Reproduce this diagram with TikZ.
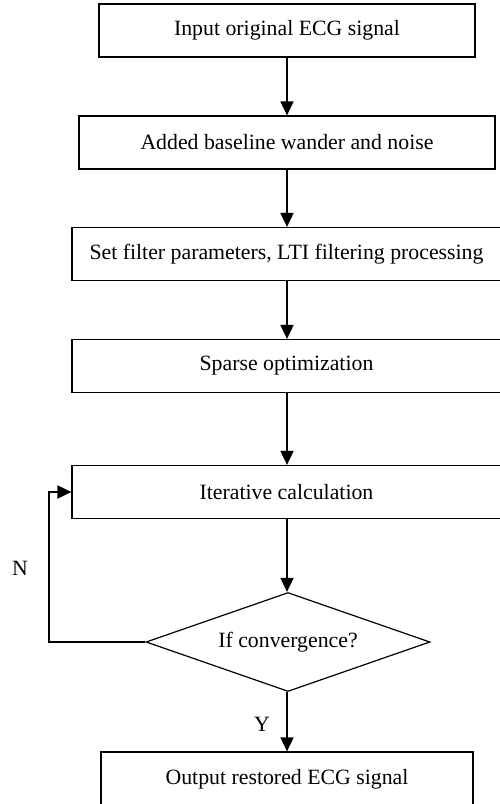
\documentclass[tikz,border=0pt]{standalone}
\usepackage{fontspec}
\setmainfont{Liberation Serif}
\usetikzlibrary{arrows.meta,shapes.geometric}
\begin{document}
\begin{tikzpicture}[x=1pt,y=-1pt,
  box/.style={draw,line width=1.2pt,rectangle,inner sep=0pt,minimum height=53pt,font=\fontsize{21.8}{24}\selectfont},
  arr/.style={line width=1.8pt,-{Triangle[width=13pt,length=14pt]}},
  lbl/.style={font=\fontsize{21.8}{24}\selectfont}]
\useasboundingbox (0,0) rectangle (500,804);
\node[box,minimum width=376pt] (b1) at (287,30.5) {Input original ECG signal};
\node[box,minimum width=416pt] (b2) at (287,142.5) {Added baseline wander and noise};
\node[box,minimum width=429pt] (b3) at (286.5,254) {Set filter parameters, LTI filtering processing};
\node[box,minimum width=429pt] (b4) at (286.5,366) {Sparse optimization};
\node[box,minimum width=429pt] (b5) at (286.5,492) {Iterative calculation};
\node[draw,line width=1.2pt,diamond,aspect=2.87,inner sep=0pt,minimum width=284pt,minimum height=99pt,font=\fontsize{21.8}{24}\selectfont] (dia) at (288,642) {If convergence?};
\node[box,minimum width=372pt,minimum height=54pt] (b6) at (287,779) {Output restored ECG signal};
\coordinate (lp) at (49,642);
\draw[arr] (b1.south -| 287,0) -- (b2.north -| 287,0);
\draw[arr] (b2.south -| 287,0) -- (b3.north -| 287,0);
\draw[arr] (b3.south -| 287,0) -- (b4.north -| 287,0);
\draw[arr] (b4.south -| 287,0) -- (b5.north -| 287,0);
\draw[arr] (b5.south -| 287,0) -- (dia.north -| 287,0);
\draw[arr] (dia.south -| 287,0) -- (b6.north -| 287,0);
\draw[arr] (dia.west) -- (lp) |- (b5.west);
\node[lbl] (n) at (20,568) {N};
\node[lbl] (y) at (262,724) {Y};
\end{tikzpicture}
\end{document}
